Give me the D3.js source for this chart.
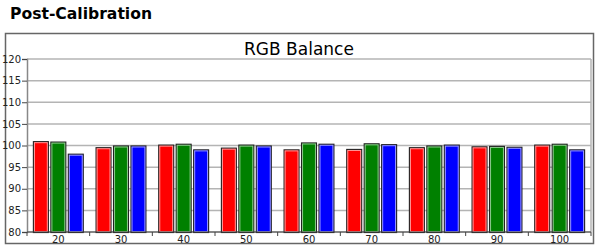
<!DOCTYPE html>
<html>
<head>
<meta charset="utf-8">
<script src="https://cdn.jsdelivr.net/npm/d3@7"></script>
<style>
  body { margin: 0; background: #fff; }
  svg { display: block; }
</style>
</head>
<body>
<div id="viz"></div>
<script>
const levels = ['20', '30', '40', '50', '60', '70', '80', '90', '100'];
const series = ['red', 'green', 'blue'];
const redValues = [101.0, 99.6, 100.2, 99.5, 99.1, 99.2, 99.6, 99.8, 100.2];
const greenValues = [100.9, 100.0, 100.4, 100.2, 100.7, 100.5, 100.0, 99.9, 100.4];
const blueValues = [98.1, 100.0, 99.1, 100.0, 100.4, 100.3, 100.2, 99.7, 99.1];
const yTicks = [80, 85, 90, 95, 100, 105, 110, 115, 120];

const fills = { red: '#ff0000', green: '#008000', blue: '#0000ff' };
const tints = { red: '#ff9a9a', green: '#8fc98f', blue: '#9a9aff' };

const width = 600, height = 251;
const margin = { top: 59, right: 9, bottom: 19, left: 27 };

const rows = levels.map((l, i) => ({
  level: l,
  values: [
    { key: 'red', v: redValues[i] },
    { key: 'green', v: greenValues[i] },
    { key: 'blue', v: blueValues[i] }
  ]
}));

const svg = d3.select('#viz')
  .append('svg')
  .attr('width', width)
  .attr('height', height);

// page title
svg.append('text')
  .attr('x', 10)
  .attr('y', 18.5)
  .attr('textLength', 142)
  .attr('lengthAdjust', 'spacingAndGlyphs')
  .style('font-family', 'DejaVu Sans Condensed, DejaVu Sans, sans-serif')
  .style('font-weight', 'bold')
  .style('font-size', '16px')
  .text('Post-Calibration');

// outer frame
svg.append('rect')
  .attr('x', 5.5)
  .attr('y', 33.5)
  .attr('width', 588)
  .attr('height', 210)
  .attr('fill', 'none')
  .attr('stroke', '#666')
  .attr('stroke-width', 1.5);

svg.append('text')
  .attr('x', 299)
  .attr('y', 55)
  .attr('text-anchor', 'middle')
  .style('font-family', 'DejaVu Sans, Verdana, sans-serif')
  .style('font-size', '17px')
  .text('RGB Balance');

const x0 = d3.scaleBand()
  .domain(levels)
  .range([margin.left, width - margin.right])
  .padding(0);

const x1 = d3.scaleBand()
  .domain(series)
  .range([0, x0.bandwidth()])
  .paddingInner(0.09)
  .paddingOuter(0.34);

const y = d3.scaleLinear()
  .domain([80, 120])
  .range([height - margin.bottom, margin.top]);

// gridlines
svg.append('g')
  .selectAll('line')
  .data(yTicks)
  .enter().append('line')
  .attr('x1', margin.left)
  .attr('x2', width - margin.right)
  .attr('y1', d => y(d))
  .attr('y2', d => y(d))
  .attr('stroke', '#b4b4b4')
  .attr('stroke-width', 1.5);

// right edge of plot
svg.append('line')
  .attr('x1', width - margin.right)
  .attr('x2', width - margin.right)
  .attr('y1', y(120))
  .attr('y2', y(80))
  .attr('stroke', '#b4b4b4')
  .attr('stroke-width', 1.5);

// bars
const group = svg.append('g')
  .selectAll('g')
  .data(rows)
  .enter().append('g')
  .attr('transform', d => 'translate(' + x0(d.level) + ',0)');

group.selectAll('rect.bar')
  .data(d => d.values)
  .enter().append('rect')
  .attr('class', 'bar')
  .attr('x', d => x1(d.key) + 0.5)
  .attr('y', d => y(d.v) + 0.5)
  .attr('width', x1.bandwidth() - 1)
  .attr('height', d => y(80) - y(d.v))
  .attr('fill', d => fills[d.key])
  .attr('stroke', '#222')
  .attr('stroke-width', 1.2);

group.selectAll('rect.hi')
  .data(d => d.values)
  .enter().append('rect')
  .attr('class', 'hi')
  .attr('x', d => x1(d.key) + 1.5)
  .attr('y', d => y(d.v) + 1.5)
  .attr('width', x1.bandwidth() - 3)
  .attr('height', d => y(80) - y(d.v) - 2)
  .attr('fill', 'none')
  .attr('stroke', d => tints[d.key])
  .attr('stroke-width', 1);

// y axis
const yAxis = svg.append('g')
  .attr('transform', 'translate(' + margin.left + ',0)')
  .call(d3.axisLeft(y).tickValues(yTicks).tickSize(5).tickPadding(1));
yAxis.select('.domain').attr('stroke', '#888').attr('stroke-width', 1.5);
yAxis.selectAll('.tick line').attr('stroke', '#444');
yAxis.selectAll('text')
  .style('font-family', 'DejaVu Sans, Verdana, sans-serif')
  .style('font-size', '10px')
  .attr('fill', '#222');

// x axis: ticks at group boundaries
const xAxis = svg.append('g')
  .attr('transform', 'translate(0,' + y(80) + ')');
xAxis.append('line')
  .attr('x1', margin.left)
  .attr('x2', width - margin.right)
  .attr('stroke', '#444')
  .attr('stroke-width', 1.2);
xAxis.selectAll('line.tk')
  .data(levels.concat(['end']))
  .enter().append('line')
  .attr('class', 'tk')
  .attr('x1', d => d === 'end' ? width - margin.right : x0(d))
  .attr('x2', d => d === 'end' ? width - margin.right : x0(d))
  .attr('y1', 0)
  .attr('y2', 4)
  .attr('stroke', '#444');
xAxis.selectAll('text')
  .data(levels)
  .enter().append('text')
  .attr('x', d => x0(d) + x0.bandwidth() / 2)
  .attr('y', 11)
  .attr('text-anchor', 'middle')
  .style('font-family', 'DejaVu Sans, Verdana, sans-serif')
  .style('font-size', '10px')
  .attr('fill', '#222')
  .text(d => d);
</script>
</body>
</html>
